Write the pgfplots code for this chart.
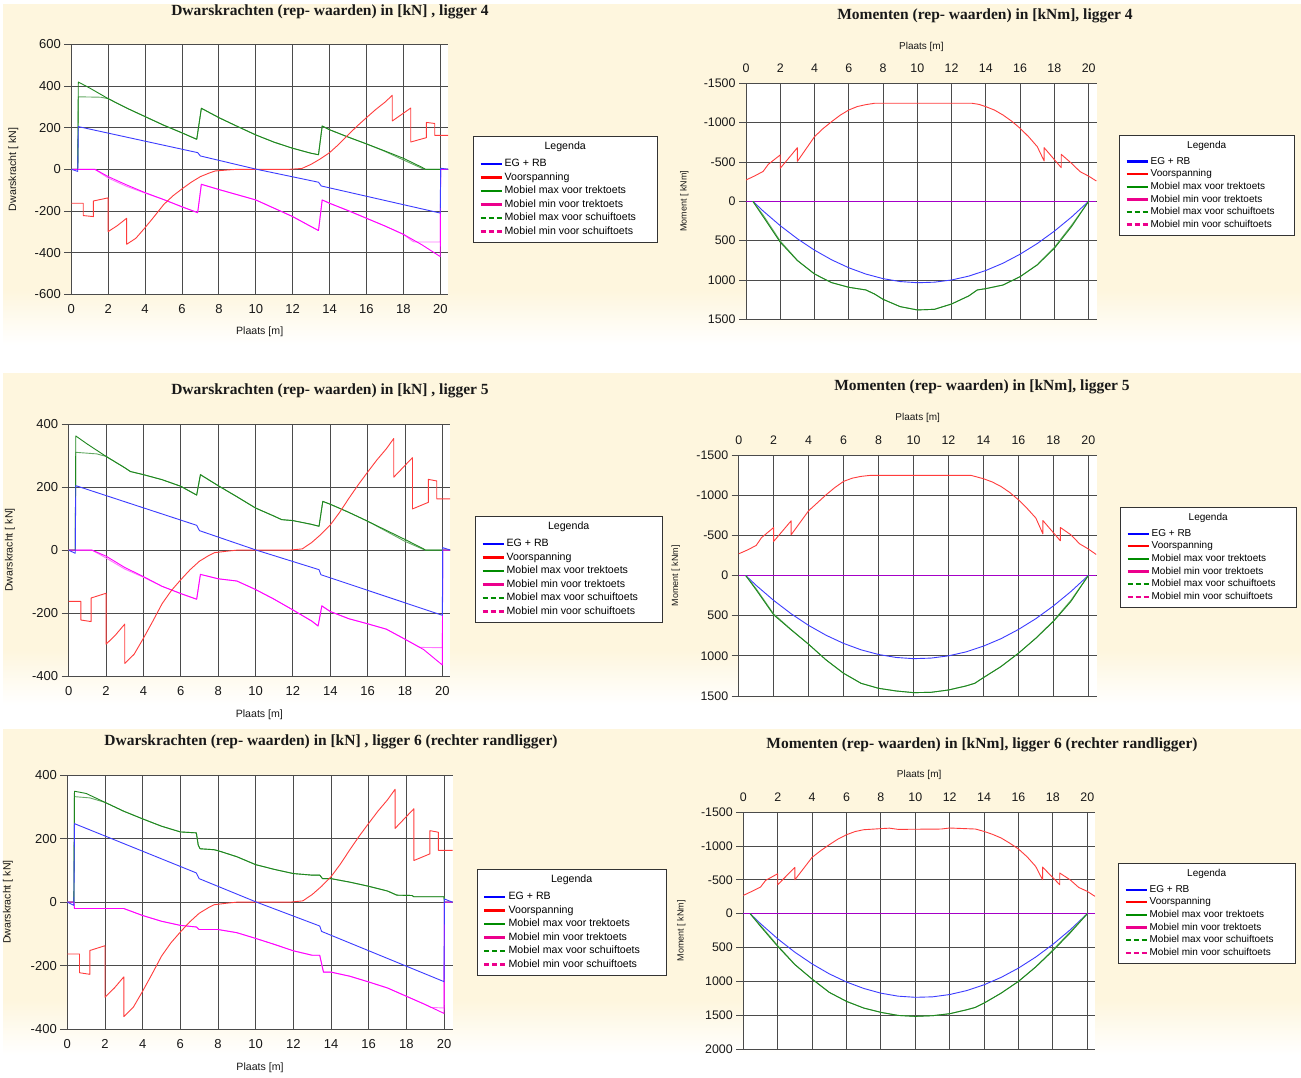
\documentclass[border=0pt]{standalone}
\usepackage{fontspec}
\setmainfont{Liberation Sans}
\newfontfamily\titlefont{Liberation Serif}
\usepackage{pgfplots}
\usepackage{pgfplotstable}
\pgfplotsset{compat=1.18}

\definecolor{cream}{RGB}{254,246,222}
\definecolor{cblue}{RGB}{60,60,255}
\definecolor{cred}{RGB}{255,60,60}
\definecolor{cgreen}{RGB}{30,135,30}
\definecolor{cgreen2}{RGB}{100,170,100}
\definecolor{cmag}{RGB}{255,0,255}
\definecolor{cmag2}{RGB}{255,120,255}
\definecolor{czero}{RGB}{165,0,200}
\definecolor{lgreen}{RGB}{0,140,0}
\definecolor{gridc}{RGB}{75,75,75}

% ---------- shear force data ----------
\pgfplotstableread{
x y
0 -163
0.65 -163
0.65 -222
1.2 -227
1.2 -152
2 -137
2 -299
2.5 -270
3 -235
3 -360
3.5 -331
4 -280
4.5 -226
5 -170
5.5 -128
6 -94
6.5 -62
7 -35
7.5 -17
7.8 -8
8.5 -3
9 0
11.8 0
12.5 4
13 24
13.5 50
14 80
14.5 120
15 165
15.5 208
16 248
16.5 287
17 322
17.4 355
17.4 232
18.4 294
18.4 131
19.25 152
19.25 225
19.7 220
19.7 163
20.45 163
}\redV

\pgfplotstableread{
x y
0 0
0.35 -10
0.38 205
6.85 80
7.0 64
10.05 0
13.4 -62
13.55 -80
20 -210
20.02 5
20.45 0
}\vbA
\pgfplotstableread{
x y
0 0
0.35 0
0.38 419
1 390
2 339
3 294
4 253
5 212
6 175
6.8 144
7.05 293
8 248
9 206
10 165
11 130
12 101
13 77
13.4 70
13.6 208
14 190
15 155
16 122
17 88
18 53
19 10
19.2 0
20.45 0
}\vgA
\pgfplotstableread{
x y
0 0
0.35 0
0.38 348
1.6 346
2 339
3 294
4 253
5 212
6 175
6.8 144
7.05 293
8 248
9 206
10 165
11 130
12 101
13 77
13.4 70
13.6 208
14 190
15 155
16 122
17 86
18 45
19 5
19.2 0
20.45 0
}\vgdA
\pgfplotstableread{
x y
0 0
1.28 0
2 -35
3 -75
4 -112
5 -145
6 -180
6.85 -208
7.05 -72
8 -97
9 -122
10 -147
11 -187
12 -227
13 -275
13.4 -294
13.6 -147
14 -163
15 -198
16 -235
17 -272
18 -312
19 -362
20 -419
20.02 0
20.45 0
}\vmA
\pgfplotstableread{
x y
0 0
1.28 0
2 -42
3 -82
4 -114
5 -145
6 -180
6.85 -208
7.05 -72
8 -97
9 -122
10 -147
11 -187
12 -227
13 -275
13.4 -294
13.6 -147
14 -163
15 -198
16 -235
17 -272
18 -312
18.5 -345
18.6 -349
20 -349
20.02 0
20.45 0
}\vmdA

\pgfplotstableread{
x y
0 0
0.35 -10
0.38 205
6.85 79
7.0 62
10.05 0
13.4 -62
13.5 -78
20 -207
20.02 8
20.45 0
}\vbB
\pgfplotstableread{
x y
0 0
0.35 0
0.38 363
1 337
2 298
3 262
3.3 250
4 240
5 224
6 203
6.85 175
7.05 240
8 205
9 170
10 134
11 108
11.4 97
12 94
13 82
13.4 76
13.6 155
14 146
15 120
16 92
17 63
18 34
19 4
19.1 0
20.45 0
}\vgB
\pgfplotstableread{
x y
0 0
0.35 0
0.38 311
1.5 306
2 298
3 262
3.3 250
4 240
5 224
6 203
6.85 175
7.05 240
8 205
9 170
10 134
11 108
11.4 97
12 94
13 82
13.4 76
13.6 155
14 146
15 120
16 92
17 60
18 28
19 2
19.1 0
20.45 0
}\vgdB
\pgfplotstableread{
x y
0 0
1.25 0
2 -19
3 -55
4 -84
5 -115
6 -138
6.85 -156
7.05 -77
8 -91
9 -98
10 -125
11 -156
12 -190
13 -225
13.35 -241
13.55 -177
14 -195
15 -218
16 -234
17 -251
18 -283
19 -316
20 -365
20.02 0
20.45 0
}\vmB
\pgfplotstableread{
x y
0 0
1.25 0
2 -25
3 -60
4 -86
5 -115
6 -138
6.85 -156
7.05 -77
8 -91
9 -98
10 -125
11 -156
12 -190
13 -225
13.35 -241
13.55 -177
14 -195
15 -218
16 -234
17 -251
18 -283
18.8 -309
20 -310
20.02 0
20.45 0
}\vmdB

\pgfplotstableread{
x y
0 0
0.35 -10
0.38 247
6.85 92
7.0 74
10.05 0
13.4 -75
13.5 -92
20 -250
20.02 10
20.45 0
}\vbC
\pgfplotstableread{
x y
0 0
0.35 0
0.38 349
1 342
2 314
3 286
4 262
5 239
6 221
6.85 218
6.95 180
7.05 168
7.8 165
8 162
9 143
10 118
11 103
12 90
13 85
13.4 85
13.55 74
14 74
15 63
16 50
17 35
17.5 22
18.3 21
18.4 17
20 17
20.02 0
20.45 0
}\vgC
\pgfplotstableread{
x y
0 0
0.35 0
0.38 332
1.2 328
2 314
3 286
4 262
5 239
6 221
6.85 218
6.95 180
7.05 168
7.8 165
8 162
9 143
10 118
11 103
12 90
13 85
13.4 85
13.55 74
14 74
15 63
16 50
17 35
17.5 22
18.3 21
18.4 17
20 17
20.02 0
20.45 0
}\vgdC
\pgfplotstableread{
x y
0 0
0.35 0
0.38 -20
3 -20
4 -42
5 -60
6 -73
6.85 -78
7.0 -86
8 -86
9 -96
10 -114
11 -133
12 -153
13 -167
13.4 -167
13.6 -220
14 -220
15 -233
16 -251
17 -270
18 -296
19 -322
20 -350
20.02 0
20.45 0
}\vmC
\pgfplotstableread{
x y
0 0
0.35 0
0.38 -20
3 -20
4 -42
5 -60
6 -73
6.85 -78
7.0 -86
8 -86
9 -96
10 -114
11 -133
12 -153
13 -167
13.4 -167
13.6 -220
14 -220
15 -233
16 -251
17 -270
18 -296
19 -322
19.3 -331
20 -333
20.02 0
20.45 0
}\vmdC

% ---------- moment data ----------
\pgfplotstableread{
x y
0 0
20.45 0
}\mzero
\pgfplotstableread{
x y
0.4 0
1 123
2 310
3 476
4 621
5 744
6 845
7 925
8 983
9 1020
10 1035
11 1028
12 1000
13 951
14 879
15 787
16 672
17 537
18 379
19 200
20 0
}\mbAB
\pgfplotstableread{
x y
0 -271
0.5 -322
1 -380
1.3 -470
2 -590
2 -420
3 -682
3 -508
3.5 -665
4 -822
4.5 -925
5 -1013
5.5 -1095
6 -1161
6.5 -1205
7 -1229
7.5 -1246
13.2 -1246
13.6 -1232
14 -1203
14.5 -1160
15 -1097
15.5 -1020
16 -928
16.5 -820
17 -695
17.4 -513
17.4 -682
18.4 -428
18.4 -597
19 -483
19.5 -377
20 -320
20.45 -258
}\mrA
\pgfplotstableread{
x y
0.4 0
1 195
2 521
3 754
4 924
5 1034
6 1093
7 1127
7.5 1178
8 1246
9 1339
10 1381
11 1373
12 1305
13 1203
13.5 1127
14 1110
15 1064
16 958
17 809
18 597
19 322
20 0
}\mgA
\pgfplotstableread{
x y
0.4 0
1 175
2 505
3 750
4 924
5 1034
6 1093
7 1127
7.5 1178
8 1246
9 1339
10 1381
11 1373
12 1305
13 1203
13.5 1127
14 1110
15 1064
16 958
17 805
18 585
19 305
20 0
}\mgdA
\pgfplotstableread{
x y
0 -270
0.5 -318
1 -374
1.3 -470
2 -598
2 -424
3 -681
3 -507
4 -806
4.5 -905
5 -1005
5.5 -1095
6 -1172
6.5 -1212
7 -1234
7.5 -1246
13.3 -1246
14 -1205
14.5 -1165
15 -1109
15.5 -1035
16 -943
16.5 -835
17 -715
17.4 -519
17.4 -685
18.4 -432
18.4 -598
19 -507
19.5 -395
20 -330
20.45 -262
}\mrB
\pgfplotstableread{
x y
0.4 0
1 179
2 490
3 677
4 856
5 1051
6 1217
7 1342
8 1404
9 1437
10 1458
11 1454
12 1425
13 1375
13.5 1342
14 1271
15 1134
16 968
17 781
18 573
19 324
20 0
}\mgB
\pgfplotstableread{
x y
0.4 0
1 165
2 478
3 672
4 856
5 1051
6 1217
7 1342
8 1404
9 1437
10 1458
11 1454
12 1425
13 1375
13.5 1342
14 1271
15 1134
16 968
17 778
18 565
19 310
20 0
}\mgdB
\pgfplotstableread{
x y
0 -270
0.5 -330
1 -393
1.3 -492
2 -590
2 -428
3 -683
3 -501
4 -831
4.5 -930
5 -1018
5.5 -1100
6 -1165
6.5 -1212
7 -1239
8 -1255
8.5 -1262
9 -1244
11.5 -1249
12 -1264
13.5 -1249
14 -1214
14.5 -1170
15 -1116
15.5 -1040
16 -954
16.5 -840
17 -698
17.4 -501
17.4 -688
18.4 -428
18.4 -600
19 -501
19.5 -388
20 -330
20.45 -256
}\mrC
\pgfplotstableread{
x y
0.4 0
1 146
2 370
3 568
4 740
5 887
6 1007
7 1102
8 1172
9 1216
10 1233
11 1226
12 1192
13 1133
14 1048
15 938
16 802
17 640
18 452
19 239
20 0
}\mbC
\pgfplotstableread{
x y
0.4 0
1 187
2 482
3 752
4 964
5 1160
6 1293
7 1391
8 1455
9 1500
10 1514
11 1504
12 1475
13 1416
13.5 1381
14 1318
15 1170
16 998
17 787
18 546
19 285
20 0
}\mgC
\pgfplotstableread{
x y
0.4 0
1 172
2 470
3 748
4 964
5 1160
6 1293
7 1391
8 1455
9 1500
10 1514
11 1504
12 1475
13 1416
13.5 1381
14 1318
15 1170
16 998
17 783
18 535
19 268
20 0
}\mgdC

\pgfplotsset{
 common/.style={
  scale only axis, anchor=south west, xmin=0, xtick={0,2,...,20},
  axis line style={draw=none}, grid=major,
  grid style={draw=gridc, line width=0.8pt},
  xtick style={draw=none}, ytick style={draw=gridc, line width=0.8pt},
  major tick length=7pt, tick align=outside, ytick pos=left,
  axis background/.style={fill=white},
  /pgf/number format/assume math mode=true, /pgf/number format/1000 sep={},
  legend cell align=left,
  legend image code/.code={\draw[##1] (0pt,0pt) -- (21pt,0pt);},
  every axis plot/.append style={line width=0.9pt, line join=round},
  label style={text=black!90},
 },
 vpanel/.style={common, xtick pos=left,
  ticklabel style={font=\fontsize{13}{13}\selectfont, text=black!90},
  ylabel={Dwarskracht [ kN]}, xlabel={Plaats [m]},
  ylabel style={font=\fontsize{10.6}{12}\selectfont, at={(axis description cs:-0.154,0.5)}, anchor=center, rotate=0},
  legend style={font=\fontsize{10.6}{12}\selectfont, draw=black!80, line width=0.7pt, fill=white,
   inner xsep=6pt, inner ysep=4pt, row sep=0pt,
   nodes={inner xsep=2pt, inner ysep=1.5pt, text height=8pt, text depth=2.5pt}},
 },
 mpanel/.style={common, y dir=reverse, xticklabel pos=right,
  ticklabel style={font=\fontsize{12.4}{12.4}\selectfont, text=black!90},
  ylabel={Moment [ kNm]}, xlabel={Plaats [m]},
  xlabel style={font=\fontsize{10}{12}\selectfont, at={(axis description cs:0.5,1.156)}, anchor=center},
  ylabel style={font=\fontsize{9}{11}\selectfont, at={(axis description cs:-0.176,0.5)}, anchor=center, rotate=0},
  legend style={font=\fontsize{10}{12}\selectfont, draw=black!80, line width=0.7pt, fill=white,
   inner xsep=6pt, inner ysep=4pt, row sep=0pt,
   nodes={inner xsep=2pt, inner ysep=1.4pt, text height=7.5pt, text depth=2.3pt}},
 },
}

\newcommand\legendentries[2]{%
 \addlegendimage{empty legend}
 \addlegendentry[text depth=#2]{\makebox[#1][c]{Legenda\hspace*{24pt}}}
 \addlegendimage{blue, line width=2.3pt}\addlegendentry{EG + RB}
 \addlegendimage{red, line width=2.3pt}\addlegendentry{Voorspanning}
 \addlegendimage{lgreen, line width=2.3pt}\addlegendentry{Mobiel max voor trektoets}
 \addlegendimage{magenta, line width=2.3pt}\addlegendentry{Mobiel min voor trektoets}
 \addlegendimage{lgreen, line width=2.3pt, dash pattern=on 5pt off 3pt}\addlegendentry{Mobiel max voor schuiftoets}
 \addlegendimage{magenta, line width=2.3pt, dash pattern=on 5pt off 3pt}\addlegendentry{Mobiel min voor schuiftoets}
}

\begin{document}
\begin{tikzpicture}
\useasboundingbox (0pt,0pt) rectangle (1301pt,-1077pt);
\fill[white] (0pt,0pt) rectangle (1301pt,-1077pt);
% row backgrounds
\fill[cream] (3pt,-4pt) rectangle (1301pt,-290pt);
\shade[top color=cream, bottom color=white] (3pt,-290pt) rectangle (1301pt,-345pt);
\fill[cream] (3pt,-373pt) rectangle (1301pt,-650pt);
\shade[top color=cream, bottom color=white] (3pt,-650pt) rectangle (1301pt,-705pt);
\fill[cream] (3pt,-729pt) rectangle (1301pt,-1000pt);
\shade[top color=cream, bottom color=white] (3pt,-1000pt) rectangle (1301pt,-1055pt);

% titles
\begin{scope}[every node/.style={font=\titlefont\bfseries\fontsize{15.5}{16}\selectfont, text=black!90}]
\node at (330pt,-12pt) {Dwarskrachten (rep- waarden) in [kN] , ligger 4};
\node at (985pt,-16pt) {Momenten (rep- waarden) in [kNm], ligger 4};
\node at (330pt,-391pt) {Dwarskrachten (rep- waarden) in [kN] , ligger 5};
\node at (982pt,-387pt) {Momenten (rep- waarden) in [kNm], ligger 5};
\node at (331pt,-742pt) {Dwarskrachten (rep- waarden) in [kN] , ligger 6 (rechter randligger)};
\node at (982pt,-745pt) {Momenten (rep- waarden) in [kNm], ligger 6 (rechter randligger)};
\end{scope}

% ===== Panel 1 =====
\begin{axis}[vpanel, at={(71.3pt,-294.3pt)}, width=376.7pt, height=250pt,
  xmax=20.42, ymin=-600, ymax=600, ytick={-600,-400,...,600},
  xlabel style={font=\fontsize{10.6}{12}\selectfont, at={(axis description cs:0.5,-0.151)}, anchor=center},
  legend style={at={(1.0664,0.6332)}, anchor=north west}]
\addplot[cgreen2, forget plot] table {\vgdA};
\addplot[cmag2, forget plot] table {\vmdA};
\addplot[cgreen, forget plot] table {\vgA};
\addplot[cmag, forget plot] table {\vmA};
\addplot[cred, forget plot] table {\redV};
\addplot[cblue, forget plot] table {\vbA};
\legendentries{145pt}{6pt}
\end{axis}

% ===== Panel 2 =====
\begin{axis}[mpanel, at={(746pt,-319.3pt)}, width=350.7pt, height=236pt,
  xmax=20.47, ymin=-1500, ymax=1500, ytick={-1500,-1000,...,1500},
  legend style={at={(1.0636,0.781)}, anchor=north west}]
\addplot[cblue, forget plot] table {\mzero};
\addplot[czero, forget plot] table {\mzero};
\addplot[cblue, forget plot] table {\mbAB};
\addplot[cgreen2, forget plot] table {\mgdA};
\addplot[cgreen, forget plot] table {\mgA};
\addplot[cred, forget plot] table {\mrA};
\legendentries{136pt}{5.7pt}
\end{axis}

% ===== Panel 3 =====
\begin{axis}[vpanel, at={(68.7pt,-676pt)}, width=381.3pt, height=251.7pt,
  xmax=20.41, ymin=-400, ymax=400, ytick={-400,-200,...,400},
  xlabel style={font=\fontsize{10.6}{12}\selectfont, at={(axis description cs:0.5,-0.155)}, anchor=center},
  legend style={at={(1.0656,0.6357)}, anchor=north west}]
\addplot[cgreen2, forget plot] table {\vgdB};
\addplot[cmag2, forget plot] table {\vmdB};
\addplot[cgreen, forget plot] table {\vgB};
\addplot[cmag, forget plot] table {\vmB};
\addplot[cred, forget plot] table {\redV};
\addplot[cblue, forget plot] table {\vbB};
\legendentries{148pt}{6pt}
\end{axis}

% ===== Panel 4 =====
\begin{axis}[mpanel, at={(738.7pt,-696pt)}, width=358pt, height=241pt,
  xmax=20.48, ymin=-1500, ymax=1500, ytick={-1500,-1000,...,1500},
  legend style={at={(1.0651,0.7842)}, anchor=north west}]
\addplot[cblue, forget plot] table {\mzero};
\addplot[czero, forget plot] table {\mzero};
\addplot[cblue, forget plot] table {\mbAB};
\addplot[cgreen2, forget plot] table {\mgdB};
\addplot[cgreen, forget plot] table {\mgB};
\addplot[cred, forget plot] table {\mrB};
\legendentries{137pt}{5.7pt}
\end{axis}

% ===== Panel 5 =====
\begin{axis}[vpanel, at={(67.3pt,-1029.3pt)}, width=385.4pt, height=254.3pt,
  xmax=20.46, ymin=-400, ymax=400, ytick={-400,-200,...,400},
  xlabel style={font=\fontsize{10.6}{12}\selectfont, at={(axis description cs:0.5,-0.153)}, anchor=center},
  legend style={at={(1.063,0.6304)}, anchor=north west}]
\addplot[cgreen2, forget plot] table {\vgdC};
\addplot[cmag2, forget plot] table {\vmdC};
\addplot[cgreen, forget plot] table {\vgC};
\addplot[cmag, forget plot] table {\vmC};
\addplot[cred, forget plot] table {\redV};
\addplot[cblue, forget plot] table {\vbC};
\legendentries{150pt}{6pt}
\end{axis}

% ===== Panel 6 =====
\begin{axis}[mpanel, at={(743.3pt,-1049.3pt)}, width=351.7pt, height=237.3pt,
  xmax=20.45, ymin=-1500, ymax=2000, ytick={-1500,-1000,...,2000},
  legend style={at={(1.0654,0.7851)}, anchor=north west}]
\addplot[cblue, forget plot] table {\mzero};
\addplot[czero, forget plot] table {\mzero};
\addplot[cblue, forget plot] table {\mbC};
\addplot[cgreen2, forget plot] table {\mgdC};
\addplot[cgreen, forget plot] table {\mgC};
\addplot[cred, forget plot] table {\mrC};
\legendentries{138pt}{5.7pt}
\end{axis}
\end{tikzpicture}
\end{document}
